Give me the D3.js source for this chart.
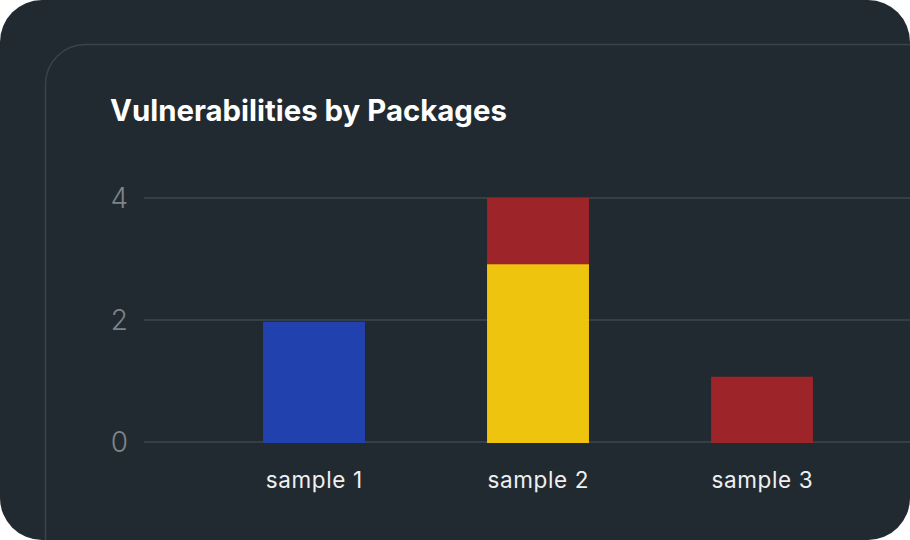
<!DOCTYPE html>
<html>
<head>
<meta charset="utf-8">
<script src="https://cdn.jsdelivr.net/npm/d3@7"></script>
<style>
html,body{margin:0;padding:0;background:#ffffff;}
svg{display:block;}
</style>
</head>
<body>
<svg id="chart" width="910" height="540"></svg>
<script>
const title = "Vulnerabilities by Packages";
const categories = ["sample 1", "sample 2", "sample 3"];
const seriesNames = ["low", "medium", "critical"];
const lowValues = [1.97, 0, 0];
const mediumValues = [0, 2.93, 0];
const criticalValues = [0, 1.07, 1.07];
const seriesColors = ["#2141ae", "#efc40f", "#9d2428"];
const yTicks = [0, 2, 4];

const svg = d3.select("#chart");
const W = 910, H = 540;

// outer background
svg.append("rect").attr("x", 0).attr("y", 0).attr("width", W).attr("height", H)
  .attr("rx", 42).attr("ry", 42).attr("fill", "#222a31");

// inner card border (top-left rounded, extends off right/bottom)
svg.append("path")
  .attr("d", `M45.5,${H + 5} L45.5,84.5 A40,40 0 0 1 85.5,44.5 L${W + 5},44.5`)
  .attr("fill", "none").attr("stroke", "#38444a").attr("stroke-width", 1.5);

const titleText = svg.append("text").attr("x", 110).attr("y", 121)
  .attr("font-family", "Inter, Roboto, sans-serif").attr("font-weight", 700)
  .attr("font-size", 28).attr("fill", "#ffffff").text(title);
{
  const w = titleText.node().getComputedTextLength();
  if (w > 0) titleText.attr("font-size", 28 * 397 / w);
}

const y = d3.scaleLinear().domain([0, 4]).range([442, 198]);
const x = d3.scaleBand().domain(categories).range([202, 874])
  .paddingInner(0.545).paddingOuter(0.2725);

// gridlines
const grid = svg.append("g");
grid.selectAll("line").data(yTicks).join("line")
  .attr("x1", 144).attr("x2", W).attr("y1", d => y(d)).attr("y2", d => y(d))
  .attr("stroke", "#334045").attr("stroke-width", 2);

// y tick labels
svg.append("g").selectAll("text").data(yTicks).join("text")
  .attr("x", 128).attr("y", d => y(d)).attr("dy", "0.36em")
  .attr("text-anchor", "end").attr("font-family", "Inter, sans-serif")
  .attr("font-weight", 300).attr("font-size", 28).attr("fill", "#7d8388")
  .text(d => d);

// stacked data
const rows = categories.map((c, i) => ({cat: c, low: lowValues[i], medium: mediumValues[i], critical: criticalValues[i]}));
const stack = d3.stack().keys(seriesNames)(rows);
const color = d3.scaleOrdinal().domain(seriesNames).range(seriesColors);

svg.append("g").selectAll("g").data(stack).join("g")
  .attr("fill", d => color(d.key))
  .selectAll("rect").data(d => d.filter(s => s[1] - s[0] > 0)).join("rect")
  .attr("x", d => x(d.data.cat)).attr("width", x.bandwidth())
  .attr("y", d => y(d[1])).attr("height", d => y(d[0]) - y(d[1]) + 1);

// x labels
const xl = svg.append("g").selectAll("text").data(categories).join("text")
  .attr("x", d => x(d) + x.bandwidth() / 2).attr("y", 488)
  .attr("text-anchor", "middle").attr("font-family", "Inter, sans-serif")
  .attr("font-weight", 400).attr("font-size", 22.5).attr("fill", "#eef0f1")
  .text(d => d);
{
  const w = xl.node().getComputedTextLength();
  if (w > 0) {
    const ls = (97 - w) / 8;
    xl.attr("letter-spacing", ls);
    xl.attr("dx", ls / 2);
  }
}
</script>
</body>
</html>
